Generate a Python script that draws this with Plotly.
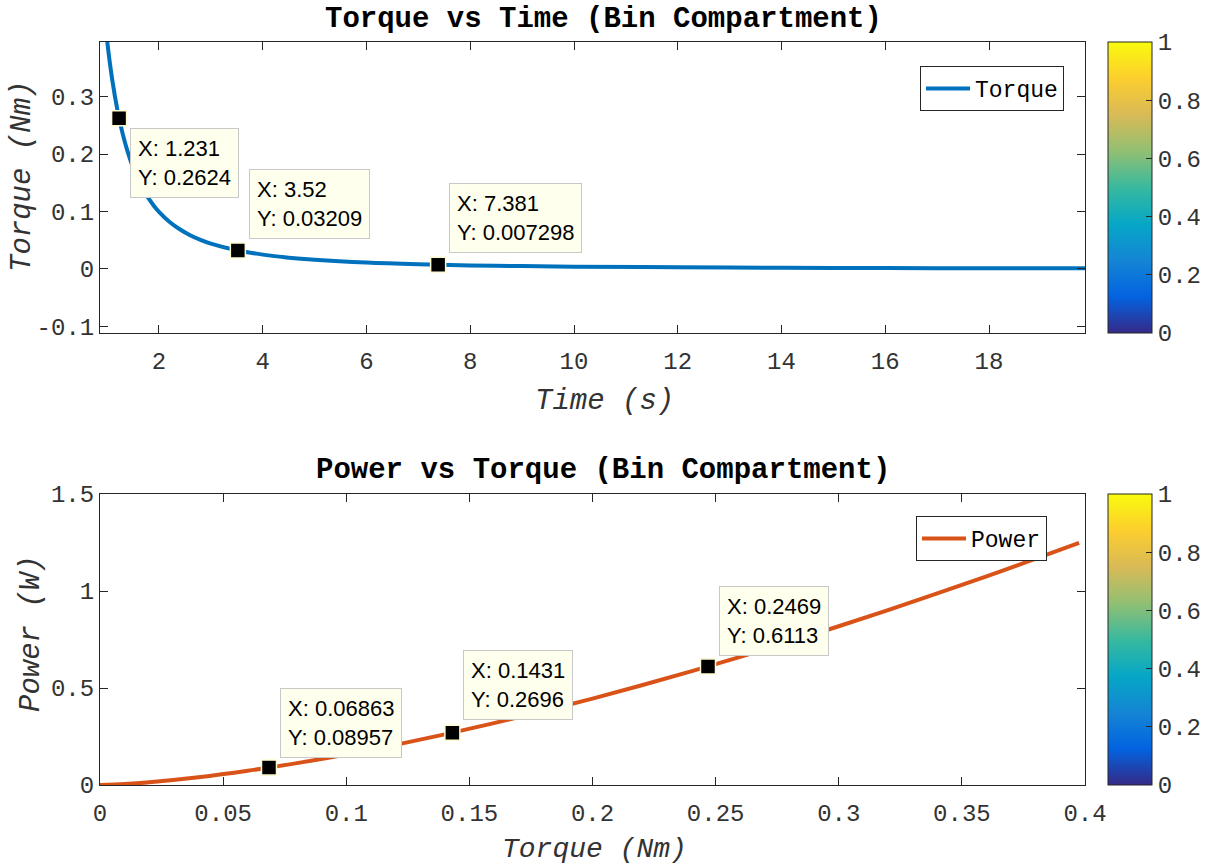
import plotly.graph_objects as go

# ---------------- data ----------------
time_s = [0.9, 1.0, 1.1, 1.2, 1.3, 1.4, 1.5, 1.6, 1.7, 1.8, 1.9, 2.0, 2.2, 2.4, 2.6, 2.8,
          3.0, 3.5, 4.0, 4.5, 5.0, 6.0, 7.0, 8.0, 9.0, 10.0, 12.0, 14.0, 16.0, 18.0, 20.0]
torque_nm = [0.4909, 0.3976, 0.3286, 0.2761, 0.2353, 0.2029, 0.1767, 0.1553, 0.1376, 0.1227,
             0.1101, 0.0994, 0.0821, 0.0690, 0.0588, 0.0507, 0.0442, 0.0325, 0.0249, 0.0196,
             0.0159, 0.0110, 0.0081, 0.0062, 0.0049, 0.0040, 0.0028, 0.0020, 0.0016, 0.0012,
             0.0010]

torque_axis_nm = [0.0, 0.01, 0.02, 0.04, 0.06, 0.08, 0.10, 0.12, 0.14, 0.16, 0.18, 0.20, 0.22,
                  0.24, 0.26, 0.28, 0.30, 0.32, 0.34, 0.36, 0.38, 0.3976]
power_w = [0.0, 0.0050, 0.0141, 0.0398, 0.0732, 0.1127, 0.1575, 0.2070, 0.2609, 0.3187,
           0.3803, 0.4454, 0.5139, 0.5855, 0.6602, 0.7378, 0.8183, 0.9015, 0.9873, 1.0757,
           1.1666, 1.2485]

tip1_x = [1.231, 3.52, 7.381]
tip1_y = [0.2624, 0.03209, 0.007298]
tip2_x = [0.06863, 0.1431, 0.2469]
tip2_y = [0.08957, 0.2696, 0.6113]

top_xticks = [2, 4, 6, 8, 10, 12, 14, 16, 18]
top_yticks = [-0.1, 0, 0.1, 0.2, 0.3]
top_ytext = ["-0.1", "0", "0.1", "0.2", "0.3"]
bot_xticks = [0, 0.05, 0.1, 0.15, 0.2, 0.25, 0.3, 0.35, 0.4]
bot_xtext = ["0", "0.05", "0.1", "0.15", "0.2", "0.25", "0.3", "0.35", "0.4"]
bot_yticks = [0, 0.5, 1, 1.5]
bot_ytext = ["0", "0.5", "1", "1.5"]
cb_ticks = [0, 0.2, 0.4, 0.6, 0.8, 1]
cb_text = ["0", "0.2", "0.4", "0.6", "0.8", "1"]

# ---------------- styling ----------------
W, H = 1211, 867
def px(x):
    return x / W
def py(y):
    return 1 - y / H

MONO = "Liberation Mono, Courier New, monospace"
SANS = "Liberation Sans, Arial, sans-serif"
AX = "#262626"
TXT = "#333333"
BLUE = "#0072BD"
ORANGE = "#D95319"
parula = [[0.0, "#352a87"], [0.125, "#0363e1"], [0.25, "#1485d4"], [0.375, "#06a7c6"],
          [0.5, "#38b99e"], [0.625, "#92bf73"], [0.75, "#d9ba56"], [0.875, "#fcce2e"],
          [1.0, "#f9fb0e"]]

fig = go.Figure()

fig.add_trace(go.Scatter(x=time_s, y=torque_nm, mode="lines", name="Torque",
                         line=dict(color=BLUE, width=4, shape="spline"),
                         xaxis="x", yaxis="y", legend="legend"))
fig.add_trace(go.Scatter(x=tip1_x, y=tip1_y, mode="markers", showlegend=False,
                         marker=dict(symbol="square", size=15, color="black",
                                     line=dict(color="#fffbd0", width=1.5)),
                         xaxis="x", yaxis="y"))

fig.add_trace(go.Scatter(x=torque_axis_nm, y=power_w, mode="lines", name="Power",
                         line=dict(color=ORANGE, width=4, shape="spline"),
                         xaxis="x2", yaxis="y2", legend="legend2"))
fig.add_trace(go.Scatter(x=tip2_x, y=tip2_y, mode="markers", showlegend=False,
                         marker=dict(symbol="square", size=15, color="black",
                                     line=dict(color="#fffbd0", width=1.5)),
                         xaxis="x2", yaxis="y2"))

def cbar_trace(xa, ya, top, bottom):
    return go.Scatter(
        x=[None], y=[None], mode="markers", showlegend=False, hoverinfo="skip",
        xaxis=xa, yaxis=ya,
        marker=dict(color=[0.5], cmin=0, cmax=1, colorscale=parula, showscale=True,
                    colorbar=dict(x=px(1108), xanchor="left", xpad=0,
                                  y=py(top), yanchor="top", ypad=0,
                                  len=(bottom - top) / H, lenmode="fraction",
                                  thickness=44, thicknessmode="pixels",
                                  outlinewidth=1, outlinecolor=AX,
                                  ticks="inside", ticklen=6, tickcolor=AX,
                                  tickvals=cb_ticks, ticktext=cb_text,
                                  tickfont=dict(family=MONO, size=24, color=TXT))))

fig.add_trace(cbar_trace("x", "y", 42, 333))
fig.add_trace(cbar_trace("x2", "y2", 494, 785))

axis_common = dict(showline=True, mirror="ticks", ticks="inside", ticklen=8,
                   linecolor=AX, linewidth=1, tickcolor=AX, showgrid=False,
                   zeroline=False, automargin=False,
                   tickfont=dict(family=MONO, size=24, color=TXT))

fig.update_layout(
    template="none",
    width=W, height=H, autosize=False, margin=dict(l=0, r=0, t=0, b=0, pad=0),
    paper_bgcolor="white", plot_bgcolor="white",
    xaxis=dict(domain=[px(100), px(1085)], anchor="y", range=[0.863, 19.85],
               tickvals=top_xticks, ticklabelstandoff=6, **axis_common),
    yaxis=dict(domain=[py(333), py(42)], anchor="x", range=[-0.1115, 0.395],
               tickvals=top_yticks, ticktext=top_ytext, ticklabelstandoff=0, **axis_common),
    xaxis2=dict(domain=[px(100), px(1085)], anchor="y2", range=[0, 0.4],
                tickvals=bot_xticks, ticktext=bot_xtext, ticklabelstandoff=6, **axis_common),
    yaxis2=dict(domain=[py(785), py(494)], anchor="x2", range=[0, 1.5],
                tickvals=bot_yticks, ticktext=bot_ytext, ticklabelstandoff=0, **axis_common),
    legend=dict(x=px(1064), xanchor="right", y=py(66), yanchor="top",
                bordercolor=AX, borderwidth=1, bgcolor="white", itemwidth=44,
                font=dict(family=MONO, size=23, color="black")),
    legend2=dict(x=px(1047), xanchor="right", y=py(516), yanchor="top",
                 bordercolor=AX, borderwidth=1, bgcolor="white", itemwidth=44,
                 font=dict(family=MONO, size=23, color="black")),
    showlegend=True,
)

ann = []
# titles
ann.append(dict(text="<b>Torque vs Time (Bin Compartment)</b>", x=px(603), y=py(19),
                xref="paper", yref="paper", showarrow=False, xanchor="center", yanchor="middle",
                font=dict(family=MONO, size=29, color="black")))
ann.append(dict(text="<b>Power vs Torque (Bin Compartment)</b>", x=px(603), y=py(470),
                xref="paper", yref="paper", showarrow=False, xanchor="center", yanchor="middle",
                font=dict(family=MONO, size=29, color="black")))
# axis labels
lab_font = dict(family=MONO, size=29, color=TXT, style="italic")
ann.append(dict(text="Time (s)", x=px(604), y=py(401), xref="paper", yref="paper",
                showarrow=False, xanchor="center", yanchor="middle", font=lab_font))
ann.append(dict(text="Torque (Nm)", x=px(594), y=py(849), xref="paper", yref="paper",
                showarrow=False, xanchor="center", yanchor="middle",
                font=dict(family=MONO, size=28, color=TXT, style="italic")))
ann.append(dict(text="Torque (Nm)", x=px(22), y=py(177), xref="paper", yref="paper",
                showarrow=False, xanchor="center", yanchor="middle", textangle=-90, font=lab_font))
ann.append(dict(text="Power (W)", x=px(31), y=py(634), xref="paper", yref="paper",
                showarrow=False, xanchor="center", yanchor="middle", textangle=-90, font=lab_font))

tip_font = dict(family=SANS, size=22, color="black")
def tip(xv, yv, xr, yr, below, dy):
    return dict(text=f"X: {xv}<br>Y: {yv}", x=xv, y=yv, xref=xr, yref=yr,
                showarrow=False, xanchor="left", yanchor=("top" if below else "bottom"),
                xshift=11, yshift=dy, align="left", bgcolor="#ffffed",
                bordercolor="#c8c8c8", borderwidth=1, borderpad=7, font=tip_font)

ann.append(tip(tip1_x[0], tip1_y[0], "x", "y", True, -10))
ann.append(tip(tip1_x[1], tip1_y[1], "x", "y", False, 11))
ann.append(tip(tip1_x[2], tip1_y[2], "x", "y", False, 12))
ann.append(tip(tip2_x[0], tip2_y[0], "x2", "y2", False, 10))
ann.append(tip(tip2_x[1], tip2_y[1], "x2", "y2", False, 13))
ann.append(tip(tip2_x[2], tip2_y[2], "x2", "y2", False, 10))

fig.update_layout(annotations=ann)
fig.write_html(
    "out.html",
    config={"responsive": False, "displayModeBar": False},
    post_script="document.body.style.margin='0';document.body.style.overflow='hidden';",
)
